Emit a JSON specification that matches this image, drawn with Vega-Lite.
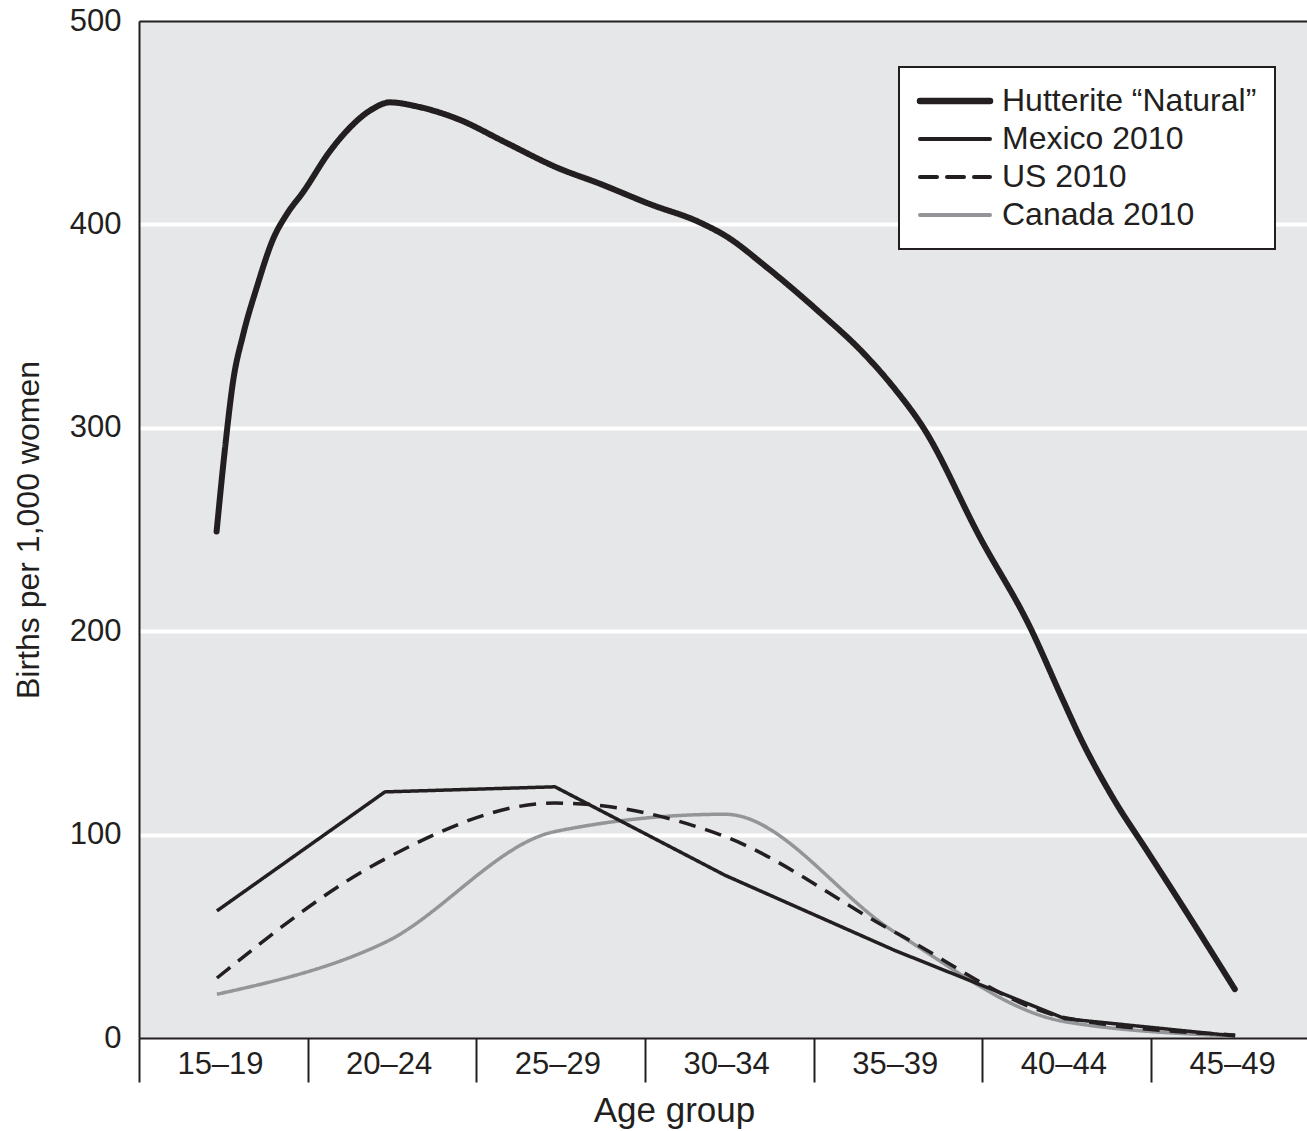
{
  "$schema": "https://vega.github.io/schema/vega-lite/v6.json",
  "autosize": {"type": "none"},
  "padding": {"left": 139, "top": 21, "right": 0, "bottom": 93},
  "width": 1168,
  "height": 1017,
  "background": "white",
  "config": {
    "view": {"fill": "#e6e7e8", "stroke": null},
    "font": "Liberation Sans"
  },
  "data": {
    "values": [
      {"series": "Hutterite “Natural”", "age": 17.30, "rate": 249},
      {"series": "Hutterite “Natural”", "age": 17.55, "rate": 290},
      {"series": "Hutterite “Natural”", "age": 17.79, "rate": 323},
      {"series": "Hutterite “Natural”", "age": 18.09, "rate": 346},
      {"series": "Hutterite “Natural”", "age": 18.49, "rate": 369},
      {"series": "Hutterite “Natural”", "age": 18.98, "rate": 393},
      {"series": "Hutterite “Natural”", "age": 19.38, "rate": 405},
      {"series": "Hutterite “Natural”", "age": 19.87, "rate": 416},
      {"series": "Hutterite “Natural”", "age": 20.66, "rate": 436},
      {"series": "Hutterite “Natural”", "age": 21.16, "rate": 446},
      {"series": "Hutterite “Natural”", "age": 21.85, "rate": 456},
      {"series": "Hutterite “Natural”", "age": 22.44, "rate": 460},
      {"series": "Hutterite “Natural”", "age": 23.23, "rate": 458},
      {"series": "Hutterite “Natural”", "age": 24.42, "rate": 452},
      {"series": "Hutterite “Natural”", "age": 25.90, "rate": 440},
      {"series": "Hutterite “Natural”", "age": 27.38, "rate": 428},
      {"series": "Hutterite “Natural”", "age": 28.66, "rate": 420},
      {"series": "Hutterite “Natural”", "age": 30.14, "rate": 410},
      {"series": "Hutterite “Natural”", "age": 31.62, "rate": 401},
      {"series": "Hutterite “Natural”", "age": 32.42, "rate": 394},
      {"series": "Hutterite “Natural”", "age": 33.60, "rate": 379},
      {"series": "Hutterite “Natural”", "age": 35.09, "rate": 358},
      {"series": "Hutterite “Natural”", "age": 36.57, "rate": 335},
      {"series": "Hutterite “Natural”", "age": 37.36, "rate": 320},
      {"series": "Hutterite “Natural”", "age": 38.25, "rate": 300},
      {"series": "Hutterite “Natural”", "age": 39.93, "rate": 246},
      {"series": "Hutterite “Natural”", "age": 41.41, "rate": 202},
      {"series": "Hutterite “Natural”", "age": 42.39, "rate": 166},
      {"series": "Hutterite “Natural”", "age": 42.89, "rate": 148},
      {"series": "Hutterite “Natural”", "age": 43.87, "rate": 118},
      {"series": "Hutterite “Natural”", "age": 44.88, "rate": 92},
      {"series": "Hutterite “Natural”", "age": 45.85, "rate": 67},
      {"series": "Hutterite “Natural”", "age": 47.48, "rate": 24},
      {"series": "Mexico 2010", "age": 17.31, "rate": 62.5},
      {"series": "Mexico 2010", "age": 22.29, "rate": 121},
      {"series": "Mexico 2010", "age": 27.33, "rate": 123.5},
      {"series": "Mexico 2010", "age": 32.37, "rate": 80},
      {"series": "Mexico 2010", "age": 37.41, "rate": 43},
      {"series": "Mexico 2010", "age": 42.45, "rate": 9.5},
      {"series": "Mexico 2010", "age": 47.49, "rate": 1},
      {"series": "US 2010", "age": 17.31, "rate": 29.5},
      {"series": "US 2010", "age": 22.29, "rate": 88},
      {"series": "US 2010", "age": 27.33, "rate": 115.5},
      {"series": "US 2010", "age": 32.37, "rate": 99},
      {"series": "US 2010", "age": 37.41, "rate": 52},
      {"series": "US 2010", "age": 42.45, "rate": 10},
      {"series": "US 2010", "age": 47.49, "rate": 1.5},
      {"series": "Canada 2010", "age": 17.31, "rate": 21.5},
      {"series": "Canada 2010", "age": 22.29, "rate": 47},
      {"series": "Canada 2010", "age": 27.33, "rate": 101.5},
      {"series": "Canada 2010", "age": 32.37, "rate": 110},
      {"series": "Canada 2010", "age": 37.41, "rate": 52},
      {"series": "Canada 2010", "age": 42.45, "rate": 8},
      {"series": "Canada 2010", "age": 47.49, "rate": 1}
    ]
  },
  "encoding": {
    "x": {
      "field": "age",
      "type": "quantitative",
      "scale": {"domain": [15, 49.62], "nice": false, "zero": false},
      "axis": {
        "title": "Age group",
        "values": [15, 20, 25, 30, 35, 40, 45],
        "labelExpr": "datum.value + '–' + (datum.value + 4)",
        "labelOffset": 81,
        "labelPadding": -33,
        "labelFlush": false,
        "labelOverlap": false,
        "labelFontSize": 31,
        "labelColor": "#231f20",
        "tickSize": 44,
        "tickWidth": 2,
        "tickColor": "#231f20",
        "domainColor": "#231f20",
        "domainWidth": 2,
        "grid": false,
        "titleFontSize": 35,
        "titleFontWeight": "normal",
        "titleColor": "#231f20",
        "titlePadding": 10,
        "titleX": 535
      }
    },
    "y": {
      "field": "rate",
      "type": "quantitative",
      "scale": {"domain": [0, 500], "nice": false},
      "axis": {
        "title": "Births per 1,000 women",
        "values": [0, 100, 200, 300, 400, 500],
        "ticks": false,
        "labelFontSize": 31,
        "labelColor": "#231f20",
        "labelPadding": 18,
        "labelFlush": false,
        "labelOverlap": false,
        "domainColor": "#231f20",
        "domainWidth": 2,
        "grid": true,
        "gridColor": {"condition": {"test": "datum.value >= 500", "value": "#231f20"}, "value": "#ffffff"},
        "gridWidth": {"condition": {"test": "datum.value >= 500", "value": 2}, "value": 4},
        "gridOpacity": {"condition": {"test": "datum.value == 0", "value": 0}, "value": 1},
        "titleFontSize": 32,
        "titleFontWeight": "normal",
        "titleColor": "#231f20",
        "titlePadding": 24
      }
    },
    "color": {
      "field": "series",
      "type": "nominal",
      "scale": {
        "domain": ["Hutterite “Natural”", "Mexico 2010", "US 2010", "Canada 2010"],
        "range": ["#231f20", "#231f20", "#231f20", "#939598"]
      },
      "legend": {
        "title": null,
        "orient": "none",
        "legendX": 760,
        "legendY": 46,
        "padding": 18,
        "fillColor": "white",
        "strokeColor": "#231f20",
        "symbolType": "M-2.5,0H2.5",
        "symbolSize": 784,
        "symbolOffset": 22,
        "symbolStrokeWidth": 4,
        "labelFontSize": 32,
        "labelColor": "#231f20",
        "labelOffset": 31,
        "labelLimit": 400,
        "rowPadding": 6,
        "encode": {
          "legend": {"update": {"strokeWidth": {"value": 2}}},
          "symbols": {"update": {"strokeWidth": {"signal": "datum.value === 'Hutterite “Natural”' ? 6.5 : 4"}, "strokeCap": {"value": "round"}}}
        }
      }
    },
    "strokeDash": {
      "field": "series",
      "type": "nominal",
      "scale": {
        "domain": ["Hutterite “Natural”", "Mexico 2010", "US 2010", "Canada 2010"],
        "range": [[1, 0], [1, 0], [17, 10], [1, 0]]
      }
    }
  },
  "layer": [
    {
      "transform": [{"filter": {"field": "series", "equal": "Canada 2010"}}],
      "mark": {"type": "line", "interpolate": "monotone", "strokeWidth": 3.5}
    },
    {
      "transform": [{"filter": {"field": "series", "equal": "Mexico 2010"}}],
      "mark": {"type": "line", "interpolate": "linear", "strokeWidth": 3.5, "strokeJoin": "round"}
    },
    {
      "transform": [{"filter": {"field": "series", "equal": "US 2010"}}],
      "mark": {"type": "line", "interpolate": "monotone", "strokeWidth": 3.5}
    },
    {
      "transform": [{"filter": {"field": "series", "equal": "Hutterite “Natural”"}}],
      "mark": {"type": "line", "interpolate": "monotone", "strokeWidth": 6, "strokeCap": "round"}
    }
  ]
}
